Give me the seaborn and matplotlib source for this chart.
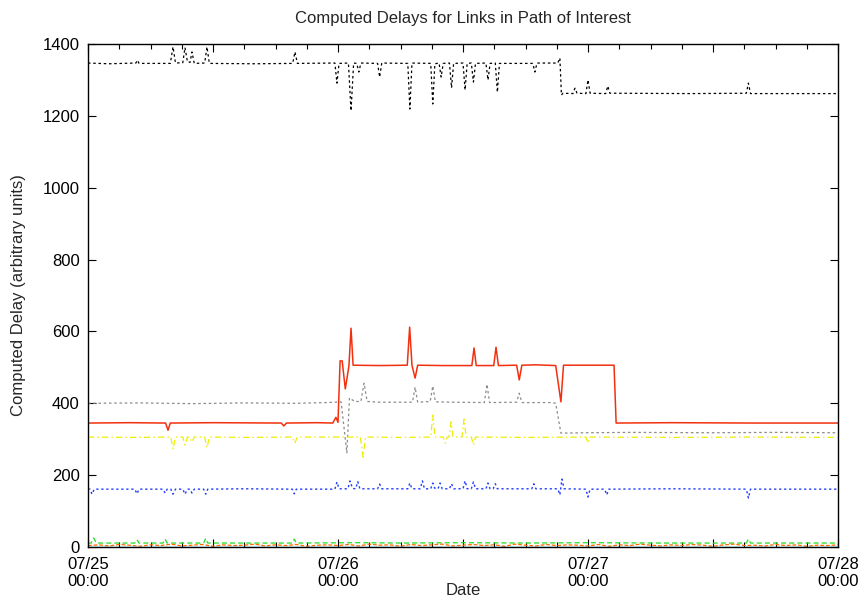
import matplotlib
matplotlib.use("Agg")

import matplotlib.dates as mdates
import matplotlib.pyplot as plt
import matplotlib.ticker as mticker
import numpy as np
import pandas as pd
import seaborn as sns

# --- data: hours since 07/25 00:00 and computed delay values ---------------
black_t = [0, 2.0, 4.6, 4.75, 4.9, 7.9, 8.16, 8.4, 9.1, 9.31, 9.55, 9.8, 9.98, 10.2,
           11.2, 11.42, 11.65, 16.0, 19.65, 19.87, 20.1, 23.7, 23.9, 24.1,
           25.0, 25.25, 25.5, 25.8, 26.0, 26.2, 27.8, 28.0, 28.2, 30.7, 30.9, 31.1,
           32.9, 33.1, 33.3, 33.7, 33.9, 34.1, 34.7, 34.9, 35.1, 36.0, 36.2, 36.4,
           36.8, 37.0, 37.2, 38.2, 38.4, 38.6, 39.1, 39.3, 39.5, 42.7, 42.9, 43.1,
           45.1, 45.3, 45.45, 45.6, 46.55, 46.75, 46.95, 47.8, 48.0, 48.2,
           49.7, 49.9, 50.1, 58.0, 63.2, 63.4, 63.6, 72]
black_v = [1347, 1345, 1347, 1355, 1346, 1346, 1392, 1347, 1348, 1390, 1350, 1349, 1378, 1346,
           1347, 1392, 1346, 1345, 1346, 1378, 1346, 1347, 1291, 1346,
           1347, 1214, 1347, 1346, 1322, 1347, 1346, 1308, 1347, 1346, 1219, 1347,
           1346, 1233, 1345, 1347, 1308, 1346, 1347, 1278, 1346, 1347, 1272, 1346,
           1347, 1294, 1346, 1347, 1300, 1346, 1347, 1266, 1346, 1346, 1322, 1347,
           1347, 1361, 1258, 1263, 1262, 1277, 1263, 1262, 1300, 1263,
           1262, 1283, 1263, 1262, 1263, 1291, 1262, 1262]

red_t = [0, 4.0, 7.45, 7.68, 7.9, 12.0, 18.55, 18.8, 19.05, 22.0,
         23.5, 23.8, 24.0, 24.2, 24.4, 24.7, 25.05, 25.25, 25.45, 28.0,
         30.65, 30.88, 31.1, 31.4, 31.65, 34.0, 36.85, 37.06, 37.27,
         38.95, 39.17, 39.4, 41.15, 41.4, 41.65, 43.0, 44.9, 45.4, 45.65,
         48.0, 50.5, 50.7, 56.0, 64.0, 72]
red_v = [345, 346, 345, 325, 345, 346, 345, 337, 345, 346,
         345, 361, 347, 518, 518, 440, 504, 609, 506, 505,
         506, 612, 506, 470, 506, 505, 505, 554, 505,
         505, 556, 505, 506, 465, 506, 507, 505, 404, 506,
         506, 506, 345, 346, 345, 345]

gray_t = [0, 5.0, 10.0, 15.0, 20.0, 23.0, 24.3, 24.85, 25.1, 25.6,
          26.2, 26.5, 26.8, 28.0, 31.15, 31.4, 31.65, 32.85, 33.1, 33.35,
          35.0, 38.05, 38.3, 38.55, 41.15, 41.4, 41.65, 44.5, 44.9, 45.4,
          48.0, 52.0, 60.0, 66.0, 72]
gray_v = [400, 401, 399, 401, 400, 402, 404, 262, 415, 405,
          405, 456, 405, 403, 403, 445, 403, 405, 448, 404,
          403, 402, 453, 402, 403, 428, 402, 402, 400, 317,
          318, 319, 318, 319, 318]

yellow_t = [0, 4.0, 7.95, 8.16, 8.4, 9.1, 9.31, 9.55, 9.75, 9.98, 10.2,
            11.2, 11.42, 11.65, 15.0, 19.6, 19.85, 20.1, 24.0, 26.15, 26.4, 26.65,
            30.0, 32.9, 33.1, 33.3, 34.1, 34.3, 34.5, 34.65, 34.85, 35.05,
            35.9, 36.1, 36.3, 36.8, 37.0, 37.2, 42.0, 47.8, 48.0, 48.2,
            56.0, 64.0, 72]
yellow_v = [306, 305, 306, 273, 306, 306, 284, 306, 306, 292, 306,
            306, 276, 306, 305, 306, 289, 306, 306, 306, 250, 306,
            305, 306, 367, 306, 306, 289, 306, 306, 348, 306,
            306, 356, 306, 306, 284, 306, 305, 306, 289, 306,
            305, 306, 305]

blue_t = [0, 0.2, 0.38, 0.6, 4.5, 4.7, 4.9, 7.2, 7.4, 7.6, 7.95, 8.16, 8.4,
          9.1, 9.31, 9.55, 9.8, 9.98, 10.2, 11.1, 11.3, 11.5, 15.0,
          19.6, 19.8, 20.0, 23.7, 23.9, 24.1, 24.95, 25.15, 25.4, 25.7, 25.9, 26.1,
          27.8, 28.0, 28.2, 30.7, 30.9, 31.1, 31.9, 32.1, 32.3, 32.9, 33.1, 33.3,
          33.6, 33.8, 34.0, 34.7, 34.9, 35.1, 36.0, 36.2, 36.4, 36.8, 37.0, 37.2,
          38.2, 38.4, 38.6, 38.9, 39.1, 39.3, 42.6, 42.8, 43.0,
          45.1, 45.3, 45.5, 45.7, 47.8, 48.0, 48.2, 49.6, 49.8, 50.0,
          56.0, 63.2, 63.4, 63.6, 72]
blue_v = [161, 161, 147, 161, 161, 148, 161, 161, 150, 161, 161, 147, 161,
          161, 147, 161, 161, 150, 161, 161, 147, 161, 162,
          161, 148, 161, 161, 181, 162, 162, 184, 163, 162, 182, 162,
          162, 175, 162, 162, 178, 162, 162, 184, 162, 162, 178, 163,
          162, 178, 162, 162, 176, 162, 162, 184, 162, 162, 181, 162,
          162, 178, 162, 162, 176, 162, 162, 176, 162,
          162, 145, 189, 162, 161, 139, 161, 161, 145, 161,
          162, 161, 136, 161, 161]

green_t = [0, 0.3, 0.55, 0.8, 4.5, 4.7, 4.9, 7.2, 7.4, 7.6, 11.1, 11.3, 11.5,
           19.6, 19.8, 20.0, 26.0, 30.0, 36.0, 42.0, 48.0, 55.0,
           63.2, 63.4, 63.6, 72]
green_v = [11, 11, 25, 11, 11, 20, 11, 11, 22, 11, 11, 24, 11,
           11, 22, 11, 12, 11, 12, 11, 12, 11,
           11, 22, 11, 11]

orange_t = list(range(73))
orange_v = [4, 6, 3, 7, 5, 2, 6, 4, 8, 3, 5, 7, 2, 6, 4, 5, 8, 3, 6, 4,
            7, 2, 5, 6, 4, 7, 3, 8, 5, 6, 2, 7, 4, 6, 8, 3, 5, 7, 4, 6,
            2, 8, 5, 3, 7, 4, 6, 5, 3, 7, 2, 6, 4, 8, 5, 3, 6, 4, 7, 5,
            2, 6, 8, 4, 5, 3, 7, 4, 6, 2, 5, 4, 6]

cyan_t = [0, 72]
cyan_v = [1, 1]

START = pd.Timestamp("2008-07-25 00:00")
FONT_SIZE = 12


def to_frame(hours, values):
    """Turn hour offsets + values into a frame with real timestamps."""
    return pd.DataFrame({
        "time": START + pd.to_timedelta(np.asarray(hours, dtype=float), unit="h"),
        "delay": values,
    })


def tick_label(x, pos=None):
    d = mdates.num2date(x)
    if d.hour == 0:
        return d.strftime("%m/%d\n%H:%M")
    return ""


sns.set_style("ticks")
plt.rcParams["font.family"] = ["Liberation Sans", "DejaVu Sans"]

fig = plt.figure(figsize=(8.63, 6.0), dpi=100)
ax = fig.add_axes([88 / 863, 53 / 600, 750 / 863, 503 / 600])

series = [
    (black_t, black_v, "black", (0, (2.0, 2.2)), 0.9),
    (gray_t, gray_v, "#8a8a8a", (0, (2.0, 2.2)), 0.9),
    (red_t, red_v, "#f2300f", "-", 1.1),
    (yellow_t, yellow_v, "#eeee00", (0, (5, 2.5, 1.2, 2.5)), 0.9),
    (blue_t, blue_v, "#1f3dff", (0, (1.6, 2.0)), 1.0),
    (green_t, green_v, "#22dd22", (0, (4, 2.5)), 0.9),
    (orange_t, orange_v, "#ff6a00", (0, (3, 1.5)), 0.9),
    (cyan_t, cyan_v, "#00c8f0", "-", 1.0),
]
for hours, values, color, ls, lw in series:
    df = to_frame(hours, values)
    sns.lineplot(data=df, x="time", y="delay", ax=ax, color=color,
                 linestyle=ls, linewidth=lw, estimator=None, sort=False)

ax.set_xlim(START, START + pd.Timedelta(hours=72))
ax.set_ylim(0, 1400)
ax.yaxis.set_major_locator(mticker.MultipleLocator(200))
ax.xaxis.set_major_locator(mdates.HourLocator(byhour=[0, 12]))
ax.xaxis.set_minor_locator(mdates.HourLocator(interval=3))
ax.xaxis.set_major_formatter(mticker.FuncFormatter(tick_label))

ax.tick_params(axis="both", which="both", direction="in", top=True, right=True,
               labelsize=FONT_SIZE, colors="black", width=0.8)
ax.tick_params(axis="both", which="major", length=6)
ax.tick_params(axis="x", which="minor", length=3.5)
ax.tick_params(axis="x", which="major", pad=7)
ax.tick_params(axis="y", which="major", pad=6)
for spine in ax.spines.values():
    spine.set_visible(True)
    spine.set_color("black")
    spine.set_linewidth(1.0)

ax.set_xlabel("Date", fontsize=FONT_SIZE)
ax.xaxis.set_label_coords(0.5, -0.072)
ax.set_ylabel("Computed Delay (arbitrary units)", fontsize=FONT_SIZE)
ax.yaxis.set_label_coords(-0.083, 0.5)
fig.text(463 / 863, 1 - 18 / 600, "Computed Delays for Links in Path of Interest",
         ha="center", va="center", fontsize=FONT_SIZE)

fig.savefig("out.png", dpi=100)
plt.close(fig)
